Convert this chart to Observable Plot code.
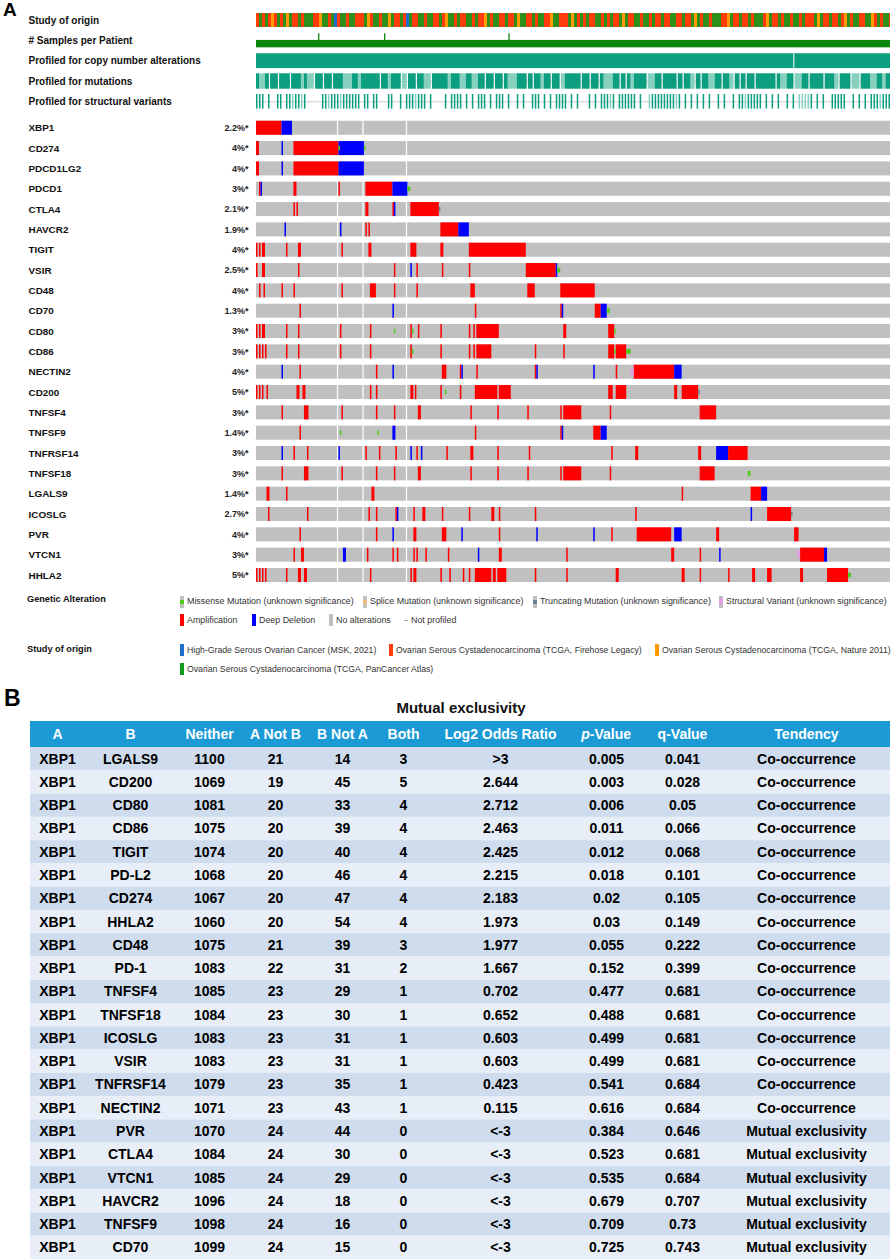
<!DOCTYPE html>
<html>
<head>
<meta charset="utf-8">
<script src="https://cdn.jsdelivr.net/npm/d3@7"></script>
<script src="https://cdn.jsdelivr.net/npm/@observablehq/plot@0.6"></script>
<style>
html,body{margin:0;padding:0;background:#fff;}
#page{position:relative;width:892px;height:1260px;overflow:hidden;font-family:"Liberation Sans",Arial,sans-serif;color:#000;}
#page svg{display:block;}
.abs{position:absolute;white-space:nowrap;}
</style>
</head>
<body>
<div id="page"></div>
<script>
// ================= DATA =================
const nSamples = 423;

const topTracks = ["Study of origin", "# Samples per Patient", "Profiled for copy number alterations", "Profiled for mutations", "Profiled for structural variants"];

const genes = ["XBP1","CD274","PDCD1LG2","PDCD1","CTLA4","HAVCR2","TIGIT","VSIR","CD48","CD70","CD80","CD86","NECTIN2","CD200","TNFSF4","TNFSF9","TNFRSF14","TNFSF18","LGALS9","ICOSLG","PVR","VTCN1","HHLA2"];
const genePct = ["2.2%*","4%*","4%*","3%*","2.1%*","1.9%*","4%*","2.5%*","4%*","1.3%*","3%*","3%*","4%*","5%*","3%*","1.4%*","3%*","3%*","1.4%*","2.7%*","4%*","3%*","5%*"];

// A = amplification, D = deep deletion, M = missense, T = truncating, S = structural variant ; start-end sample index
const geneAlterations = [
  "A0-17 D17-24",
  "A0-2 D17-18 A25-55 D55-72 M55-56 M72-73",
  "A0-2 D17-18 A25-55 D55-72",
  "A2-3 D3-4 A25-27 A55-56 A73-91 D91-101 M101-103",
  "A25-26 A27-28 A73-75 A91-92 D92-93 A103-122 T122-123",
  "D19-20 D56-57 A73-74 A75-76 A123-135 D135-142",
  "A0-1 A2-3 A4-6 A20-21 A28-30 A57-58 A75-77 A103-107 A123-125 A142-180",
  "A0-1 A4-6 A28-29 A92-93 D103-104 A107-108 A124-125 A142-143 A180-200 D200-201 M201-203",
  "A2-3 A5-6 A17-18 A25-26 A57-58 A76-80 A92-93 A107-108 A143-146 A181-186 A203-226",
  "A29-30 D91-92 A146-147 A203-204 D204-205 A226-230 D230-234 M234-236",
  "A0-1 A2-3 A4-6 A20-21 A28-29 A56-57 A76-77 M92-93 A103-104 M104-105 A108-109 A123-124 A142-143 A145-146 A147-162 A205-207 A235-239 M239-240",
  "A0-1 A2-3 A4-5 A6-7 A20-21 A28-29 A56-57 A76-77 A103-104 M104-105 A123-124 A142-143 A145-146 A147-157 A186-187 A205-206 A235-239 M239-240 A240-247 M247-250",
  "D17-18 A29-30 A80-81 D91-92 A124-127 A136-137 D137-138 A147-148 A186-187 D187-188 D225-226 A240-241 S250-252 A252-279 D279-284",
  "A0-1 A2-3 A4-5 A7-8 A27-29 A31-33 A76-77 A80-81 A103-105 A106-107 A123-124 M126-127 A136-137 A146-161 A162-170 A235-238 A240-247 A279-281 A284-295 T295-296",
  "A17-18 A32-35 A57-58 A80-81 A92-93 A108-110 A143-144 A161-162 A181-182 A203-204 A205-217 A236-237 A296-307",
  "A29-30 M56-57 M81-82 D91-93 A146-147 A203-204 D204-205 A225-230 D230-234",
  "D17-18 A25-26 A34-35 D55-56 A73-74 A82-83 A93-94 D103-104 A107-108 D110-111 A127-128 A143-145 A161-162 A182-183 A237-238 A253-255 A295-297 D307-315 A315-328",
  "A17-18 A32-35 A57-58 A80-81 A92-93 A108-110 A143-144 A161-162 A181-182 A203-204 A205-217 A236-237 A296-306 M328-330",
  "A7-9 A20-21 A77-79 A284-285 A330-337 D337-341",
  "A8-9 A34-35 A75-76 A80-81 A93-94 D94-95 A105-106 A111-113 A124-125 A142-143 A157-159 A162-163 A186-187 A253-254 D330-331 A341-357 T357-358",
  "A29-30 A80-81 D91-92 A105-107 A124-127 D137-138 A162-163 D187-188 D225-226 A237-238 A254-277 D279-284 A307-309 A359-362",
  "A25-26 A30-32 D58-60 A74-75 A91-92 A94-95 A105-106 A107-108 A113-114 A128-129 D148-149 A162-164 A207-208 A277-279 A296-297 D309-310 S361-363 A363-379 D379-381",
  "A0-1 A2-3 A4-5 A6-7 A20-21 A28-30 A32-34 A76-77 A103-104 A105-107 A123-124 A129-130 A138-139 A142-143 A146-157 A158-160 A161-167 A186-187 A207-208 A240-242 A284-286 A296-297 A315-316 A331-333 A341-344 A363-365 A381-395 M395-397"
];

// study of origin per pair of samples: r = TCGA Firehose, o = TCGA Nature 2011, g = TCGA PanCancer, b = MSK 2021
const studyOfOrigin = [
  "rgrgrorgrg","ogrrgrgggr","roggrgbrgg","rggrrrgorg","grggogrrgr","bgrrggrggr","rgroggrgrr",
  "ggrgrrogrg","grrgrrgogg","rrgrggrrog","grrrgogrgr","grrggrgrgr","rgogrrggrg","grgrrgrrgg",
  "rrgrrgogrg","grgggrrogr","rgrrgrgggr","ogrrgrggrg","grgrrrgogr","rgrrgrogrg","grrggorgrg","gr"
].join("");

// profiled for mutations per pair of samples: D profiled, L profiled (light), . not profiled
const mutationProfiled = [
  "DLLD.DD.DD","D.DDDLDLL.","DD.DD.DDDL","LLDDLDDDDD","D.DDLDDD.L",".DD.DDLL.D","DDDDLDDDLL",
  "DDLLDD.DD.","DD.DLLLDDD",".D.DDLDD.D","D.LDD",
  "DDD.DD.DD.","DLLLDD.D.D","LDDDD.LLDD",".DDDD.D.DD","L.D.DDLLDD",".DDL.D.D.D","D.DDDDDD.D",
  "LLDD.LLDD.","DDDD.DDDL.","DDD.LL.DDD","LLDDLDD"
].join("");

// profiled for structural variants per pair of samples: | profiled, ! profiled (light), . not profiled
const svProfiled = [
  "|||.|..||.","||!||!|...","..||!|||!|","|||||.||.|","|...||..|.","|||!|||.|.","...|.||||.",
  "|.|.|||.|.","|||.|..|.|","..|||.|.|.","||||.",
  "|.|...|.|.","|||!|.||||","||.|..!|||","|||||!|.|.","|.|.|.|..|",".|..|.||!|","||||.|.|.|",
  "..|.|.!!!!","|.|.|..|||","||..|.|.|.","|||!|||"
].join("");

const multiSamplePatients = [41, 85, 168];
const cnaNotProfiled = [358];
const geneNotProfiled = [54, 71, 100];

// legends
const alterationLegend = ["Missense Mutation (unknown significance)", "Splice Mutation (unknown significance)", "Truncating Mutation (unknown significance)", "Structural Variant (unknown significance)", "Amplification", "Deep Deletion", "No alterations", "Not profiled"];
const studyLegend = ["High-Grade Serous Ovarian Cancer (MSK, 2021)", "Ovarian Serous Cystadenocarcinoma (TCGA, Firehose Legacy)", "Ovarian Serous Cystadenocarcinoma (TCGA, Nature 2011)", "Ovarian Serous Cystadenocarcinoma (TCGA, PanCancer Atlas)"];

// table B
const tableColumns = ["A","B","Neither","A Not B","B Not A","Both","Log2 Odds Ratio","p-Value","q-Value","Tendency"];
const colB = ["LGALS9","CD200","CD80","CD86","TIGIT","PD-L2","CD274","HHLA2","CD48","PD-1","TNFSF4","TNFSF18","ICOSLG","VSIR","TNFRSF14","NECTIN2","PVR","CTLA4","VTCN1","HAVCR2","TNFSF9","CD70"];
const colA = colB.map(() => "XBP1");
const neither = [1100,1069,1081,1075,1074,1068,1067,1060,1075,1083,1085,1084,1083,1083,1079,1071,1070,1084,1085,1096,1098,1099];
const aNotB = [21,19,20,20,20,20,20,20,21,22,23,23,23,23,23,23,24,24,24,24,24,24];
const bNotA = [14,45,33,39,40,46,47,54,39,31,29,30,31,31,35,43,44,30,29,18,16,15];
const both = [3,5,4,4,4,4,4,4,3,2,1,1,1,1,1,1,0,0,0,0,0,0];
const log2OR = [">3","2.644","2.712","2.463","2.425","2.215","2.183","1.973","1.977","1.667","0.702","0.652","0.603","0.603","0.423","0.115","<-3","<-3","<-3","<-3","<-3","<-3"];
const pValue = ["0.005","0.003","0.006","0.011","0.012","0.018","0.02","0.03","0.055","0.152","0.477","0.488","0.499","0.499","0.541","0.616","0.384","0.523","0.535","0.679","0.709","0.725"];
const qValue = ["0.041","0.028","0.05","0.066","0.068","0.101","0.105","0.149","0.222","0.399","0.681","0.681","0.681","0.681","0.684","0.684","0.646","0.681","0.684","0.707","0.73","0.743"];
const tendency = ["Co-occurrence","Co-occurrence","Co-occurrence","Co-occurrence","Co-occurrence","Co-occurrence","Co-occurrence","Co-occurrence","Co-occurrence","Co-occurrence","Co-occurrence","Co-occurrence","Co-occurrence","Co-occurrence","Co-occurrence","Co-occurrence","Mutual exclusivity","Mutual exclusivity","Mutual exclusivity","Mutual exclusivity","Mutual exclusivity","Mutual exclusivity"];

// ================= STYLE / LAYOUT =================
const FONT = "'Liberation Sans', Arial, Helvetica, sans-serif";
const colorDomain = ["Amplification","Deep Deletion","Missense","Truncating","Structural Variant","b","r","o","g","D","L"];
const colorRange  = ["#ff0000","#0000ff","#4ccd1a","#6e7f8d","#dda0dd","#1f6fd1","#ff3c0c","#ff9a00","#2e8f19","#0c9f7f","#86d0bf"];
const studyColors = {b:"#1f6fd1", r:"#ff3c0c", o:"#ff9a00", g:"#129a1c"};
const codeType = {A:"Amplification", D:"Deep Deletion", M:"Missense", T:"Truncating", S:"Structural Variant"};
const smallHalf = {Missense:0.115, Truncating:0.115, "Structural Variant":0.2};
const H = 0.345;

const page = document.getElementById("page");
function addDiv(html, css) {
  const d = document.createElement("div");
  d.className = "abs";
  d.innerHTML = html;
  Object.assign(d.style, css);
  page.appendChild(d);
  return d;
}
function textAt(txt, x, yc, fs, weight, extra = {}) {
  return addDiv(txt, Object.assign({left: x + "px", top: (yc - 0.4885 * fs) + "px", fontSize: fs + "px", lineHeight: fs + "px", fontWeight: weight, color: "#222"}, extra));
}

// ================= PANEL A =================
function runsOf(str) {
  const out = [];
  let i = 0;
  while (i < str.length) {
    let j = i;
    while (j < str.length && str[j] === str[i]) j++;
    out.push({ch: str[i], i, j});
    i = j;
  }
  return out;
}
const studyRuns = runsOf(studyOfOrigin).map(r => ({cat: r.ch, x1: r.i * 2, x2: Math.min(nSamples, r.j * 2)}));
const mutRuns = runsOf(mutationProfiled).filter(r => r.ch !== ".").map(r => ({
  cat: r.ch,
  x1: r.i * 2 - (r.i > 0 && mutationProfiled[r.i - 1] === "." ? 0.6 : 0),
  x2: Math.min(nSamples, r.j * 2 + (r.j < mutationProfiled.length && mutationProfiled[r.j] === "." ? 0.6 : 0))
}));
const svLines = [];
[...svProfiled].forEach((c, k) => { if (c !== ".") svLines.push({cat: c === "|" ? "D" : "L", x1: 2 * k, x2: 2 * k + 1}); });

const rowsY = genes.map((g, i) => ({gene: g, i, y: topTracks.length + 0.3 + i}));
const alts = geneAlterations.flatMap((s, i) => s.split(" ").map(tok => {
  const [a, b] = tok.slice(1).split("-").map(Number);
  return {y: rowsY[i].y, type: codeType[tok[0]], x1: a, x2: b};
}));
const altsBig = alts.filter(d => d.type === "Amplification" || d.type === "Deep Deletion");
const altsSmall = alts.filter(d => !(d.type === "Amplification" || d.type === "Deep Deletion"));
const yTop = rowsY[0].y - H, yBot = rowsY[rowsY.length - 1].y + H;

const plotA = Plot.plot({
  width: 892, height: 590,
  marginLeft: 256, marginRight: 2, marginTop: 20, marginBottom: 15,
  x: {domain: [0, nSamples], axis: null},
  y: {domain: [0, rowsY[rowsY.length - 1].y], range: [20, 575], axis: null},
  color: {domain: colorDomain, range: colorRange},
  style: {fontFamily: FONT, fontSize: "10px", background: "transparent", overflow: "visible"},
  marks: [
    // Study of origin
    Plot.rect(studyRuns, {x1: "x1", x2: "x2", y1: -H, y2: H, fill: "cat", shapeRendering: "crispEdges"}),
    // # samples per patient
    Plot.rect([0], {x1: 0, x2: nSamples, y1: 1 - 0.02, y2: 1 + H, fill: "#0b870b"}),
    Plot.ruleX(multiSamplePatients, {x: d => d + 0.5, y1: 1 - H, y2: 1, stroke: "#0b870b", strokeWidth: 1.3}),
    // copy number profiled
    Plot.rect([0], {x1: 0, x2: nSamples, y1: 2 - H - 0.02, y2: 2 + H + 0.02, fill: "#0c9f7f"}),
    Plot.ruleX(cnaNotProfiled, {x: d => d + 0.5, y1: 2 - H - 0.02, y2: 2 + H + 0.02, stroke: "#fff", strokeWidth: 1}),
    // mutations profiled
    Plot.ruleY([3], {x1: 0, x2: nSamples, stroke: "#cccccc", strokeWidth: 1}),
    Plot.rect(mutRuns, {x1: "x1", x2: "x2", y1: 3 - 0.38, y2: 3 + 0.38, fill: "cat"}),
    // structural variants profiled
    Plot.ruleY([4], {x1: 0, x2: nSamples, stroke: "#cccccc", strokeWidth: 1}),
    Plot.rect(svLines, {x1: "x1", x2: "x2", y1: 4 - 0.36, y2: 4 + 0.36, fill: "cat"}),
    // gene rows
    Plot.rect(rowsY, {x1: 0, x2: nSamples, y1: d => d.y - H, y2: d => d.y + H, fill: "#c0c0c0"}),
    Plot.rect(geneNotProfiled, {x1: d => d, x2: d => d + 0.8, y1: yTop, y2: yBot, fill: "#ffffff"}),
    Plot.rect(altsBig, {x1: "x1", x2: "x2", y1: d => d.y - H, y2: d => d.y + H, fill: "type"}),
    Plot.rect(altsSmall, {x1: "x1", x2: "x2", y1: d => d.y - smallHalf[d.type], y2: d => d.y + smallHalf[d.type], fill: "type"}),
    // labels
    Plot.text(topTracks, {y: (d, i) => i, text: d => d, frameAnchor: "left", dx: -228, textAnchor: "start", fontWeight: "bold", fontSize: 10, fill: "#111"}),
    Plot.text(rowsY, {y: "y", text: "gene", frameAnchor: "left", dx: -228, textAnchor: "start", fontWeight: "bold", fontSize: 9.9, fill: "#111"}),
    Plot.text(rowsY, {y: "y", text: d => genePct[d.i], frameAnchor: "left", dx: -8, textAnchor: "end", fontWeight: "bold", fontSize: 9, fill: "#222"})
  ]
});
const wrapA = addDiv("", {left: "0px", top: "0px"});
wrapA.appendChild(plotA);

// panel letters
addDiv("A", {left: "3px", top: "0px", fontSize: "19px", lineHeight: "19px", fontWeight: "bold", color: "#000"});
textAt("B", 4, 698.5, 23, "bold", {color: "#000"});

// ---- legends (HTML, below panel A) ----
const legFS = 8.9;
function swatch(x, yc, kind, color) {
  const g = addDiv("", {left: x + "px", top: (yc - 6) + "px", width: "4px", height: "12px"});
  if (kind === "full") g.style.background = color;
  else if (kind === "mid") {
    g.style.background = "#c0c0c0";
    g.innerHTML = `<div style="position:absolute;left:0;top:4px;width:4px;height:4px;background:${color}"></div>`;
  } else if (kind === "midtall") {
    g.style.background = "#c0c0c0";
    g.innerHTML = `<div style="position:absolute;left:0;top:2.5px;width:4px;height:7px;background:${color}"></div>`;
  } else if (kind === "line") {
    g.innerHTML = `<div style="position:absolute;left:0;top:5.5px;width:4px;height:1px;background:#aaa"></div>`;
  }
}
const altLegendLayout = [
  {x: 180, y: 601.5, kind: "mid", color: "#4ccd1a"},
  {x: 363, y: 601.5, kind: "mid", color: "#f0b87b"},
  {x: 533, y: 601.5, kind: "mid", color: "#6e7f8d"},
  {x: 719, y: 601.5, kind: "midtall", color: "#dda0dd"},
  {x: 180, y: 620, kind: "full", color: "#ff0000"},
  {x: 252, y: 620, kind: "full", color: "#0000ff"},
  {x: 329, y: 620, kind: "full", color: "#c0c0c0"},
  {x: 404, y: 620, kind: "line", color: "#aaa"}
];
alterationLegend.forEach((lab, k) => {
  const L = altLegendLayout[k];
  swatch(L.x, L.y, L.kind, L.color);
  textAt(lab, L.x + 7, L.y, legFS, "normal", {color: "#333"});
});
const studyLegendLayout = [
  {x: 180, y: 650, c: "b"}, {x: 389, y: 650, c: "r"}, {x: 655, y: 650, c: "o"}, {x: 180, y: 669, c: "g"}
];
studyLegend.forEach((lab, k) => {
  const L = studyLegendLayout[k];
  swatch(L.x, L.y, "full", studyColors[L.c]);
  textAt(lab, L.x + 7, L.y, 8.7, "normal", {color: "#333"});
});
textAt("Genetic Alteration", 27, 599.5, 9.2, "bold", {color: "#111"});
textAt("Study of origin", 27, 649.3, 9.2, "bold", {color: "#111"});

// ================= PANEL B =================
const colWidths = [54, 92, 66, 66, 68, 54, 140, 72, 80, 168];
const colCenters = colWidths.map((w, i) => d3.sum(colWidths.slice(0, i)) + w / 2);
const tableWidth = d3.sum(colWidths);
const nRows = colB.length;
const headerH = 1.12;
const tableCols = [colA, colB, neither, aNotB, bNotA, both, log2OR, pValue, qValue, tendency];
const cells = [];
tableCols.forEach((col, j) => col.forEach((v, r) => cells.push({row: r, col: j, text: String(v)})));
const headerCells = tableColumns.map((h, j) => ({col: j, text: h})).filter(h => h.text !== "p-Value");
const pCol = tableColumns.indexOf("p-Value");
const rowBands = colB.map((d, i) => ({row: i, band: i % 2 ? "light" : "dark"}));

textAt("Mutual exclusivity", 0, 707, 15, "bold", {color: "#111", left: "381px", width: "160px", textAlign: "center"});

const plotB = Plot.plot({
  width: 892, height: 542,
  marginLeft: 30, marginRight: 2, marginTop: 3, marginBottom: 1,
  x: {domain: [0, tableWidth], axis: null},
  y: {domain: [-headerH, nRows], range: [3, 541], axis: null},
  color: {domain: ["dark", "light"], range: ["#cfdcee", "#e8eef7"]},
  style: {fontFamily: FONT, fontSize: "14px", background: "transparent", overflow: "visible"},
  marks: [
    Plot.rect([0], {x1: 0, x2: tableWidth, y1: -headerH, y2: 0, fill: "#1b9ad6"}),
    Plot.rect(rowBands, {x1: 0, x2: tableWidth, y1: d => d.row, y2: d => d.row + 1, fill: "band"}),
    Plot.text(headerCells, {x: d => colCenters[d.col], y: -headerH / 2, text: "text", fill: "#ffffff", fontWeight: "bold", fontSize: 14}),
    Plot.text(["p"], {x: colCenters[pCol], y: -headerH / 2, text: d => d, dx: -16.7, textAnchor: "end", fill: "#ffffff", fontWeight: "bold", fontStyle: "italic", fontSize: 14}),
    Plot.text(["-Value"], {x: colCenters[pCol], y: -headerH / 2, text: d => d, dx: -16.7, textAnchor: "start", fill: "#ffffff", fontWeight: "bold", fontSize: 14}),
    Plot.text(cells, {x: d => colCenters[d.col], y: d => d.row + 0.5, text: "text", fill: "#000", fontWeight: "bold", fontSize: 14})
  ]
});
const wrapB = addDiv("", {left: "0px", top: "718px"});
wrapB.appendChild(plotB);
</script>
</body>
</html>
